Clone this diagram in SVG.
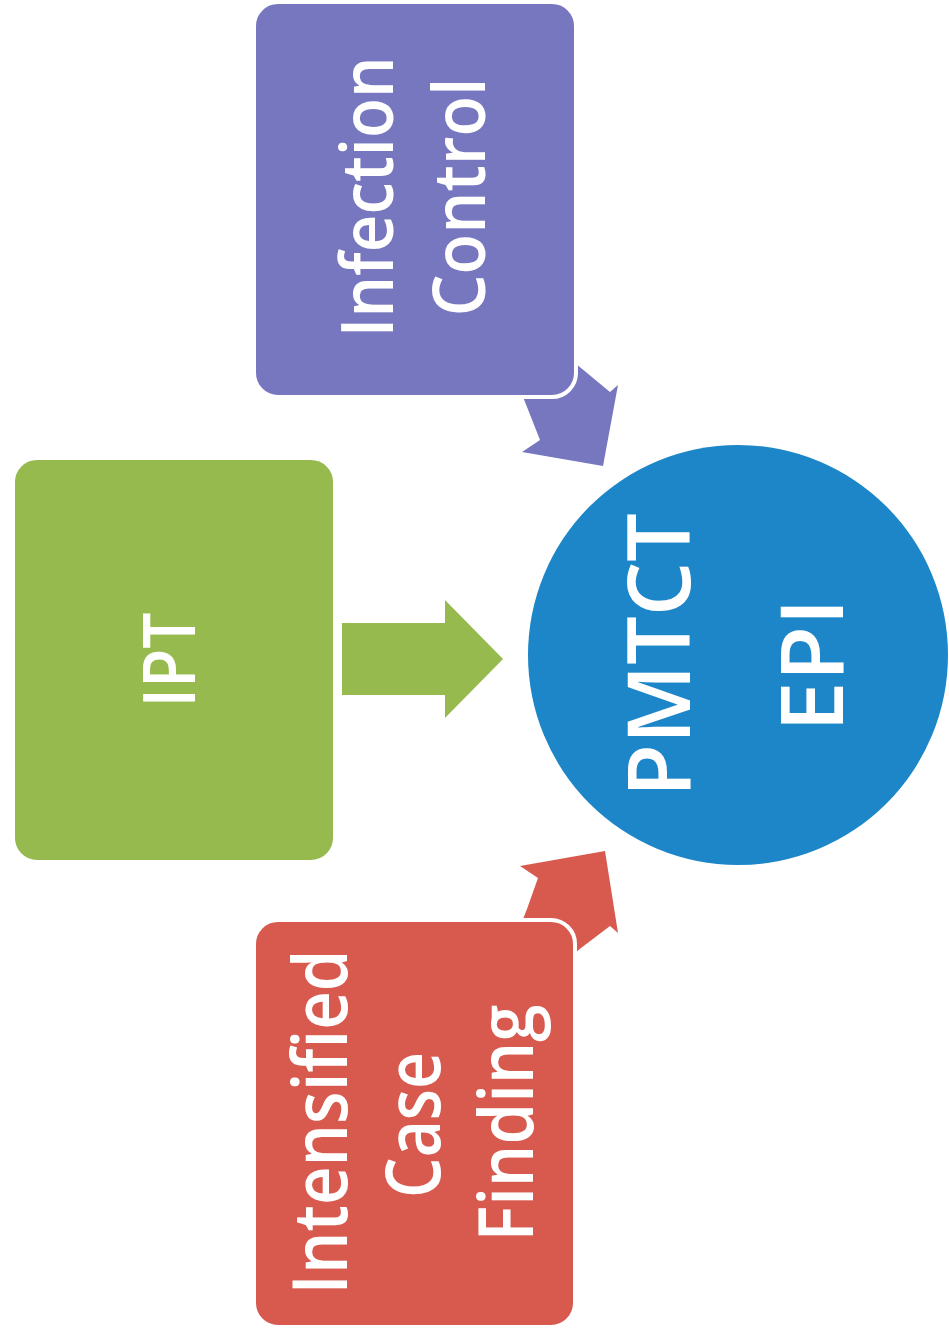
<svg xmlns="http://www.w3.org/2000/svg" width="949" height="1340" viewBox="0 0 949 1340">
<style>
.lbl{font-family:"Open Sans","Noto Sans","Liberation Sans",sans-serif;font-weight:600;fill:#ffffff;text-anchor:middle;font-variant-ligatures:none}
.box{stroke:#ffffff;stroke-width:4}
</style>
<rect width="949" height="1340" fill="#ffffff"/>
<g id="connectors">
<polygon id="arrow-ipt" points="342,623 445,623 445,600 503,659 445,718 445,695 342,695" fill="#96ba4d"/>
<polygon id="arrow-infection" points="515,377 527,407 540,440 522,452 603,466 618,385 610,392 581,368 558,349" fill="#7677bf"/>
<polygon id="arrow-icf" points="515,939 527,909 538,878 520,866 605,851 618,933 610,926 581,948 558,967" fill="#d85a4f"/>
</g>
<g id="node-infection-control">
<rect class="box" x="254" y="2" width="322" height="395" rx="24" fill="#7677bf"/>
<g transform="translate(393,197) rotate(-90)"><text class="lbl" x="0" y="0" font-size="73" textLength="281" lengthAdjust="spacingAndGlyphs">Infection</text></g>
<g transform="translate(485,197) rotate(-90)"><text class="lbl" x="0" y="0" font-size="73" textLength="239" lengthAdjust="spacingAndGlyphs">Control</text></g>
</g>
<g id="node-ipt">
<rect class="box" x="13" y="458" width="322" height="404" rx="24" fill="#96ba4d"/>
<g transform="translate(195,660) rotate(-90)"><text class="lbl" x="0" y="0" font-size="73" textLength="95" lengthAdjust="spacingAndGlyphs">IPT</text></g>
</g>
<g id="node-icf">
<rect class="box" x="254" y="920" width="321" height="407" rx="24" fill="#d85a4f"/>
<g transform="translate(347,1122) rotate(-90)"><text class="lbl" x="0" y="0" font-size="76" textLength="345" lengthAdjust="spacingAndGlyphs">Intensified</text></g>
<g transform="translate(440,1125) rotate(-90)"><text class="lbl" x="0" y="0" font-size="76" textLength="146" lengthAdjust="spacingAndGlyphs">Case</text></g>
<g transform="translate(533,1123) rotate(-90)"><text class="lbl" x="0" y="0" font-size="76" textLength="237" lengthAdjust="spacingAndGlyphs">Finding</text></g>
</g>
<g id="node-pmtct">
<circle cx="738" cy="655" r="210" fill="#1c86c8"/>
<g transform="translate(690,655) rotate(-90)"><text class="lbl" x="0" y="0" font-size="86" textLength="284" lengthAdjust="spacingAndGlyphs">PMTCT</text></g>
<g transform="translate(843,665) rotate(-90)"><text class="lbl" x="0" y="0" font-size="86" textLength="134" lengthAdjust="spacingAndGlyphs">EPI</text></g>
</g>
</svg>
